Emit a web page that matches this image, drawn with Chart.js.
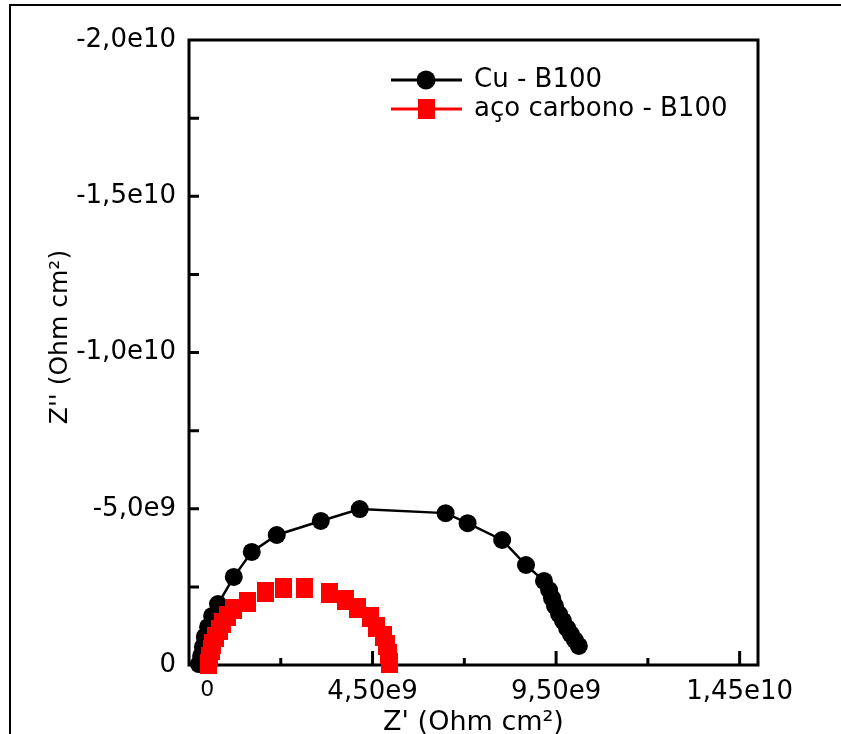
<!DOCTYPE html>
<html><head><meta charset="utf-8">
<script src="https://cdn.jsdelivr.net/npm/chart.js@4.4.1/dist/chart.umd.min.js"></script>
<style>
html,body{margin:0;padding:0;background:#fff;}
#wrap{position:relative;width:841px;height:734px;overflow:hidden;background:#fff;}
#frame{position:absolute;left:9px;top:4px;width:900px;height:800px;border-left:2px solid #000;border-top:2px solid #000;pointer-events:none;}
</style></head><body>
<div id="wrap"><canvas id="c" width="841" height="734"></canvas><div id="frame"></div></div>
<script>
const seriesNames = ['Cu - B100', 'aço carbono - B100'];
const cuX = [-0.23e9, -0.17e9, -0.12e9, -0.07e9, 0.02e9, 0.13e9, 0.29e9, 0.72e9, 1.21e9, 1.89e9, 3.09e9, 4.15e9, 6.49e9, 7.09e9, 8.03e9, 8.68e9, 9.17e9, 9.31e9, 9.39e9, 9.47e9, 9.58e9, 9.69e9, 9.80e9, 9.90e9, 10.01e9, 10.12e9];
const cuY = [-0.03e9, -0.29e9, -0.58e9, -0.90e9, -1.22e9, -1.57e9, -1.95e9, -2.82e9, -3.62e9, -4.16e9, -4.61e9, -4.99e9, -4.86e9, -4.54e9, -4.00e9, -3.20e9, -2.69e9, -2.40e9, -2.14e9, -1.89e9, -1.63e9, -1.41e9, -1.18e9, -0.99e9, -0.80e9, -0.61e9];
const acoX = [0.04e9, 0.07e9, 0.10e9, 0.15e9, 0.23e9, 0.32e9, 0.42e9, 0.56e9, 0.72e9, 1.08e9, 1.59e9, 2.08e9, 2.65e9, 3.33e9, 3.77e9, 4.09e9, 4.44e9, 4.61e9, 4.80e9, 4.88e9, 4.94e9, 4.95e9];
const acoY = [-0.03e9, -0.26e9, -0.48e9, -0.67e9, -0.90e9, -1.12e9, -1.34e9, -1.57e9, -1.79e9, -2.02e9, -2.34e9, -2.46e9, -2.46e9, -2.30e9, -2.08e9, -1.82e9, -1.54e9, -1.22e9, -0.93e9, -0.64e9, -0.35e9, -0.06e9];

const xTickValues = [0, 4.5e9, 9.5e9, 1.45e10];
const xTickLabels = ['0', '4,50e9', '9,50e9', '1,45e10'];
const xMajorTicks = [4.5e9, 9.5e9, 1.45e10];
const xMinorTicks = [2e9, 7e9, 1.2e10];
const yTickValues = [-2e10, -1.5e10, -1e10, -5e9, 0];
const yTickLabels = ['-2,0e10', '-1,5e10', '-1,0e10', '-5,0e9', '0'];
const yTickMarks = [-1.75e10, -1.5e10, -1.25e10, -1e10, -7.5e9, -5e9, -2.5e9];
const xTitle = "Z' (Ohm cm²)";
const yTitle = "Z'' (Ohm cm²)";

const FONT = 'DejaVu Sans';

function makeRect(w, h, color) {
  const c = document.createElement('canvas');
  c.width = w; c.height = h;
  const g = c.getContext('2d');
  g.fillStyle = color; g.fillRect(0, 0, w, h);
  return c;
}
const redRect = makeRect(17, 20, '#ff0000');

const toPts = (xs, ys) => xs.map((v, i) => ({x: v, y: ys[i]}));

const framePlugin = {
  id: 'framePlugin',
  beforeDatasetsDraw(chart) {
    const {ctx, chartArea: a, scales: {x, y}} = chart;
    ctx.save();
    ctx.strokeStyle = '#000';
    ctx.lineWidth = 3;
    ctx.strokeRect(a.left, a.top, a.right - a.left, a.bottom - a.top);
    ctx.beginPath();
    xMajorTicks.forEach(v => { const p = x.getPixelForValue(v); ctx.moveTo(p, a.bottom); ctx.lineTo(p, a.bottom - 14); });
    xMinorTicks.forEach(v => { const p = x.getPixelForValue(v); ctx.moveTo(p, a.bottom); ctx.lineTo(p, a.bottom - 7); });
    yTickMarks.forEach(v => { const p = y.getPixelForValue(v); ctx.moveTo(a.left, p); ctx.lineTo(a.left + 10, p); });
    ctx.stroke();
    ctx.restore();
  },
  afterDraw(chart) {
    const ctx = chart.ctx;
    ctx.save();
    // y title
    ctx.fillStyle = '#000';
    ctx.font = '25px "' + FONT + '"';
    ctx.translate(60, 337);
    ctx.rotate(-Math.PI / 2);
    ctx.textAlign = 'center';
    ctx.textBaseline = 'middle';
    ctx.fillText(yTitle, 0, 0);
    ctx.restore();
    // legend
    ctx.save();
    const rows = [80, 109];
    chart.data.datasets.forEach((ds, i) => {
      const yy = rows[i];
      ctx.strokeStyle = ds.borderColor;
      ctx.lineWidth = 3;
      ctx.beginPath(); ctx.moveTo(391, yy); ctx.lineTo(462, yy); ctx.stroke();
      if (i === 0) {
        ctx.fillStyle = '#000';
        ctx.beginPath(); ctx.arc(426, yy, 9.5, 0, Math.PI * 2); ctx.fill();
      } else {
        ctx.drawImage(redRect, 426 - redRect.width / 2, yy - redRect.height / 2);
      }
      ctx.fillStyle = '#000';
      ctx.font = '26px "' + FONT + '"';
      ctx.textAlign = 'left';
      ctx.textBaseline = 'middle';
      ctx.fillText(ds.label, 474, yy);
    });
    ctx.restore();
  }
};

new Chart(document.getElementById('c'), {
  type: 'scatter',
  data: {
    datasets: [
      {
        label: seriesNames[0],
        data: toPts(cuX, cuY),
        borderColor: '#000000',
        backgroundColor: '#000000',
        borderWidth: 2.5,
        showLine: true,
        tension: 0,
        pointStyle: 'circle',
        pointRadius: 9,
        pointBorderWidth: 0,
        clip: false,
        order: 1
      },
      {
        label: seriesNames[1],
        data: toPts(acoX, acoY),
        borderColor: '#ff0000',
        backgroundColor: '#ff0000',
        showLine: false,
        pointStyle: redRect,
        pointRadius: 9,
        clip: false,
        order: 0
      }
    ]
  },
  options: {
    responsive: false,
    animation: false,
    events: [],
    layout: {padding: {left: 0, top: 40, right: 83, bottom: 0}},
    plugins: {legend: {display: false}, tooltip: {enabled: false}, title: {display: false}},
    scales: {
      x: {
        type: 'linear',
        min: -5e8,
        max: 1.5e10,
        grid: {display: false, drawTicks: false},
        border: {display: false},
        afterBuildTicks: s => { s.ticks = xTickValues.map(v => ({value: v})); },
        afterFit: s => { s.height = 69; },
        ticks: {
          padding: 12,
          maxRotation: 0,
          autoSkip: false,
          color: '#000',
          font: ctx => ({family: FONT, size: (ctx.tick && ctx.tick.value === 0) ? 22 : 26}),
          callback: v => xTickLabels[xTickValues.indexOf(v)]
        },
        title: {
          display: true,
          text: xTitle,
          color: '#000',
          font: {family: FONT, size: 27, lineHeight: 0.8},
          padding: {top: 0, bottom: 0}
        }
      },
      y: {
        type: 'linear',
        reverse: true,
        min: -2e10,
        max: 0,
        grid: {display: false, drawTicks: false},
        border: {display: false},
        afterBuildTicks: s => { s.ticks = yTickValues.map(v => ({value: v})); },
        afterFit: s => { s.width = 189; },
        ticks: {
          padding: 13,
          autoSkip: false,
          color: '#000',
          font: {family: FONT, size: 26},
          callback: v => yTickLabels[yTickValues.indexOf(v)]
        }
      }
    }
  },
  plugins: [framePlugin]
});
</script>
</body></html>
